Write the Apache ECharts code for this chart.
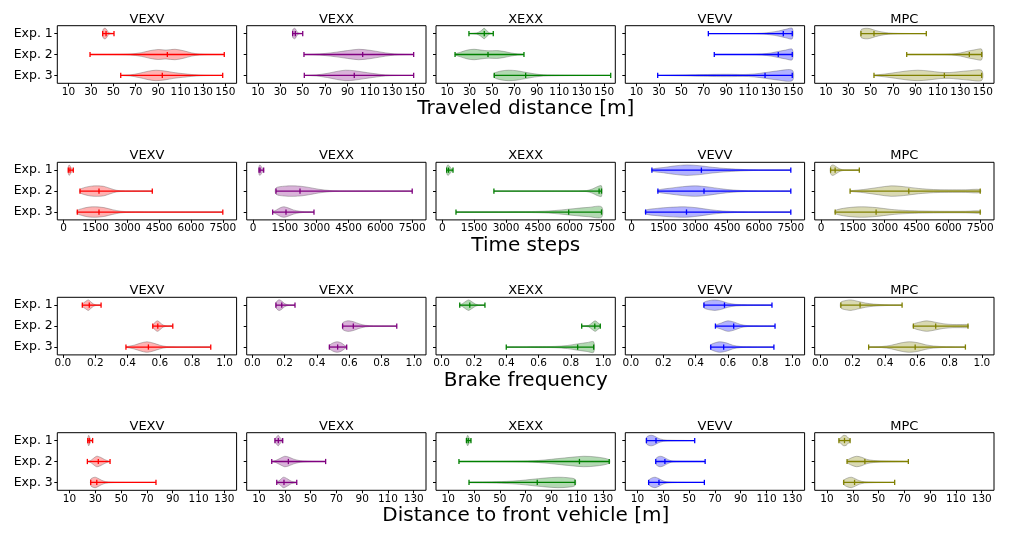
<!DOCTYPE html>
<html>
<head>
<meta charset="utf-8">
<script src="https://cdn.jsdelivr.net/npm/echarts@6/dist/echarts.min.js"></script>
<style>html,body{margin:0;padding:0;background:#fff}#c{width:1010px;height:534px}</style>
</head>
<body>
<div id="c"></div>
<script>
// ---------- data ----------
const methods = ['VEXV', 'VEXX', 'XEXX', 'VEVV', 'MPC'];
const experiments = ['Exp. 1', 'Exp. 2', 'Exp. 3'];
const metricLabels = ['Traveled distance [m]', 'Time steps', 'Brake frequency', 'Distance to front vehicle [m]'];

const distTicks = [10, 30, 50, 70, 90, 110, 130, 150];
const timeTicks = [0, 1500, 3000, 4500, 6000, 7500];
const brakeTicks = [0, 0.2, 0.4, 0.6, 0.8, 1.0];
const gapTicks = [10, 30, 50, 70, 90, 110, 130];

// stats per method, per experiment: [min, median, max]
const distStats = [
  [[40.5, 43.5, 50.6], [29.2, 98.2, 149.0], [56.6, 93.7, 147.6]],
  [[41.0, 43.4, 50.0], [51.1, 103.5, 149.0], [51.4, 96.0, 149.0]],
  [[29.4, 43.1, 51.1], [17.0, 46.4, 78.5], [52.0, 80.0, 155.9]],
  [[74.1, 141.0, 149.0], [79.4, 136.5, 149.0], [28.9, 124.7, 149.0]],
  [[41.3, 52.9, 99.6], [82.1, 138.0, 149.0], [52.9, 115.7, 149.0]]
];
// violin outline per method, per experiment: [value, relative half width]
const distShapes = [
  [[[40.5,0.5],[41.5,0.95],[43,1],[44.5,0.6],[46,0.15],[48,0.03],[50.6,0]],
   [[29.2,0],[50,0.01],[65,0.08],[75,0.35],[83,0.75],[90,0.95],[97,0.85],[105,1],[113,0.7],[120,0.3],[127,0.08],[135,0.02],[149,0]],
   [[56.6,0.02],[65,0.1],[73,0.4],[81,0.8],[88,1],[96,0.85],[104,0.55],[112,0.35],[120,0.18],[128,0.06],[136,0.02],[147.6,0]]],
  [[[41,0.7],[42.5,1],[43.5,0.9],[45,0.3],[47,0.05],[50,0]],
   [[51.1,0],[60,0.05],[70,0.2],[80,0.45],[90,0.75],[100,1],[110,0.8],[120,0.45],[128,0.2],[136,0.05],[149,0]],
   [[51.4,0],[62,0.1],[72,0.4],[80,0.75],[88,1],[96,0.9],[104,0.65],[112,0.4],[120,0.18],[128,0.05],[149,0]]],
  [[[29.4,0],[36,0.1],[40,0.5],[43,1],[45.5,0.5],[48,0.1],[51.1,0]],
   [[17,0.1],[22,0.45],[28,0.85],[34,1],[40,0.85],[47,0.7],[54,0.75],[60,0.6],[67,0.3],[73,0.1],[78.5,0.02]],
   [[52,0.4],[58,0.85],[65,1],[72,0.9],[80,0.6],[88,0.3],[96,0.12],[110,0.05],[130,0.02],[155.9,0]]],
  [[[74.1,0],[110,0.02],[122,0.08],[130,0.25],[137,0.5],[143,0.8],[149,1]],
   [[79.4,0],[110,0.02],[122,0.1],[130,0.3],[137,0.6],[143,0.85],[149,1]],
   [[28.9,0],[40,0.04],[55,0.1],[70,0.17],[85,0.22],[95,0.22],[105,0.18],[115,0.28],[125,0.55],[135,0.85],[149,1]]],
  [[[41.3,0.7],[45,1],[49,0.95],[54,0.6],[60,0.3],[66,0.12],[74,0.04],[85,0.01],[99.6,0]],
   [[82.1,0],[110,0.02],[122,0.08],[130,0.3],[137,0.65],[143,0.9],[149,1]],
   [[52.9,0.05],[62,0.25],[72,0.55],[82,0.85],[92,1],[102,0.85],[112,0.6],[120,0.55],[128,0.7],[138,0.9],[149,0.95]]]
];

const timeStats = [
  [[218, 298, 454], [770, 1665, 4177], [643, 1665, 7500]],
  [[280, 330, 500], [1081, 2212, 7500], [924, 1552, 2871]],
  [[204, 294, 501], [2429, 7387, 7500], [642, 5953, 7500]],
  [[954, 3286, 7500], [1236, 3409, 7500], [657, 2584, 7500]],
  [[449, 663, 1803], [1368, 4134, 7500], [666, 2594, 7500]]
];
const timeShapes = [
  [[[218,0.6],[260,1],[320,0.7],[380,0.3],[454,0.05]],
   [[770,0.3],[1000,0.7],[1300,0.95],[1600,1],[1900,0.9],[2200,0.5],[2500,0.15],[2900,0.03],[3500,0.01],[4177,0]],
   [[643,0.3],[900,0.7],[1200,0.95],[1500,1],[1900,0.85],[2300,0.45],[2700,0.15],[3200,0.04],[4000,0.01],[7500,0]]],
  [[[280,0.8],[330,1],[400,0.6],[500,0.1]],
   [[1081,0.6],[1500,0.95],[1900,1],[2300,0.9],[2700,0.65],[3100,0.35],[3600,0.12],[4200,0.03],[5500,0.01],[7500,0]],
   [[924,0.05],[1100,0.4],[1300,0.85],[1450,1],[1650,0.8],[1900,0.4],[2200,0.15],[2500,0.05],[2871,0.01]]],
  [[[204,0.6],[260,1],[330,0.8],[420,0.3],[501,0.05]],
   [[2429,0],[6000,0.01],[6800,0.1],[7100,0.45],[7300,0.85],[7500,1]],
   [[642,0.04],[1500,0.07],[3000,0.08],[4200,0.1],[5000,0.2],[5600,0.4],[6200,0.65],[6900,0.9],[7500,1]]],
  [[[954,0.2],[1500,0.5],[2000,0.8],[2600,1],[3200,0.85],[3800,0.55],[4500,0.3],[5300,0.12],[6200,0.03],[7500,0]],
   [[1236,0.2],[1800,0.55],[2400,0.85],[3000,1],[3600,0.8],[4200,0.45],[4800,0.2],[5500,0.07],[6500,0.02],[7500,0]],
   [[657,0.35],[1200,0.7],[1800,0.9],[2500,1],[3100,0.8],[3700,0.45],[4300,0.2],[5000,0.08],[6000,0.02],[7500,0]]],
  [[[449,0.7],[550,1],[700,0.7],[850,0.3],[1000,0.1],[1200,0.03],[1803,0]],
   [[1368,0.05],[2000,0.3],[2700,0.7],[3300,1],[3900,0.85],[4600,0.5],[5300,0.3],[6000,0.25],[6800,0.25],[7500,0.3]],
   [[666,0.3],[1200,0.8],[1900,1],[2600,0.85],[3300,0.5],[4000,0.3],[4800,0.2],[5800,0.15],[6800,0.15],[7500,0.2]]]
];

const brakeStats = [
  [[0.120, 0.163, 0.236], [0.556, 0.587, 0.680], [0.390, 0.529, 0.915]],
  [[0.146, 0.182, 0.264], [0.559, 0.625, 0.894], [0.477, 0.528, 0.584]],
  [[0.112, 0.174, 0.268], [0.867, 0.948, 0.982], [0.400, 0.842, 0.941]],
  [[0.452, 0.579, 0.873], [0.523, 0.636, 0.892], [0.494, 0.574, 0.885]],
  [[0.127, 0.246, 0.506], [0.576, 0.714, 0.914], [0.299, 0.587, 0.898]]
];
const brakeShapes = [
  [[[0.12,0.2],[0.14,0.7],[0.157,1],[0.17,0.7],[0.19,0.2],[0.21,0.04],[0.236,0]],
   [[0.556,0.2],[0.57,0.7],[0.585,1],[0.60,0.7],[0.62,0.2],[0.645,0.04],[0.68,0]],
   [[0.39,0.05],[0.44,0.35],[0.48,0.75],[0.52,1],[0.56,0.75],[0.60,0.35],[0.64,0.1],[0.70,0.02],[0.8,0.005],[0.915,0]]],
  [[[0.146,0.5],[0.16,0.95],[0.17,1],[0.185,0.7],[0.2,0.3],[0.22,0.08],[0.24,0.02],[0.264,0]],
   [[0.559,0.6],[0.58,0.95],[0.6,1],[0.63,0.8],[0.66,0.45],[0.70,0.15],[0.75,0.04],[0.82,0.01],[0.894,0]],
   [[0.477,0.3],[0.5,0.8],[0.525,1],[0.55,0.8],[0.57,0.35],[0.584,0.1]]],
  [[[0.112,0.05],[0.13,0.3],[0.15,0.75],[0.167,1],[0.185,0.7],[0.21,0.2],[0.23,0.05],[0.268,0]],
   [[0.867,0],[0.91,0.15],[0.93,0.6],[0.95,1],[0.965,0.7],[0.982,0.2]],
   [[0.40,0.03],[0.5,0.06],[0.6,0.1],[0.7,0.12],[0.78,0.3],[0.84,0.6],[0.9,0.85],[0.941,1]]],
  [[[0.452,0.5],[0.48,0.85],[0.52,1],[0.56,0.8],[0.6,0.4],[0.65,0.15],[0.72,0.08],[0.8,0.06],[0.873,0.03]],
   [[0.523,0.15],[0.56,0.6],[0.6,1],[0.64,0.75],[0.68,0.3],[0.72,0.1],[0.8,0.03],[0.892,0]],
   [[0.494,0.4],[0.52,0.8],[0.55,1],[0.59,0.8],[0.63,0.35],[0.68,0.1],[0.75,0.03],[0.885,0]]],
  [[[0.127,0.55],[0.16,0.9],[0.19,1],[0.23,0.75],[0.28,0.4],[0.33,0.2],[0.4,0.08],[0.45,0.03],[0.506,0]],
   [[0.576,0.35],[0.62,0.8],[0.66,1],[0.71,0.75],[0.76,0.45],[0.82,0.3],[0.87,0.3],[0.914,0.25]],
   [[0.299,0.02],[0.38,0.1],[0.44,0.35],[0.5,0.8],[0.55,1],[0.6,0.85],[0.65,0.45],[0.7,0.2],[0.78,0.06],[0.898,0]]]
];

const gapStats = [
  [[24.1, 25.3, 27.9], [23.8, 32.3, 41.4], [26.4, 31.1, 77.0]],
  [[22.4, 25.0, 28.4], [19.9, 32.8, 61.7], [23.8, 29.4, 39.3]],
  [[24.1, 25.5, 27.6], [18.3, 111.7, 134.8], [26.1, 79.0, 108.3]],
  [[16.9, 24.3, 54.3], [24.1, 31.2, 62.4], [18.6, 26.6, 61.8]],
  [[19.3, 23.6, 27.9], [25.6, 39.4, 73.1], [23.0, 31.4, 62.5]]
];
const gapShapes = [
  [[[24.1,0.4],[24.8,1],[25.5,0.7],[26.5,0.2],[27.9,0]],
   [[23.8,0],[26,0.15],[28,0.5],[31,1],[34,0.8],[37,0.4],[40,0.1],[41.4,0.02]],
   [[26.4,0.6],[28,0.9],[30,1],[32,0.8],[35,0.4],[38,0.15],[42,0.05],[50,0.02],[60,0.005],[77,0]]],
  [[[22.4,0.2],[24,0.8],[25,1],[26.5,0.5],[28.4,0.1]],
   [[19.9,0],[23,0.2],[26,0.55],[30,1],[33,0.85],[37,0.45],[42,0.15],[48,0.04],[55,0.01],[61.7,0]],
   [[23.8,0.05],[26,0.4],[29,1],[32,0.7],[35,0.25],[39.3,0.02]]],
  [[[24.1,0.3],[25,1],[26,0.6],[27.6,0.1]],
   [[18.3,0],[40,0.01],[60,0.04],[75,0.12],[85,0.3],[95,0.55],[105,0.8],[115,1],[125,0.85],[134.8,0.35]],
   [[26.1,0.05],[40,0.1],[55,0.2],[65,0.35],[75,0.6],[85,0.85],[95,1],[103,0.9],[108.3,0.6]]],
  [[[16.9,0.6],[19,0.95],[21,1],[23,0.85],[26,0.45],[30,0.15],[36,0.06],[45,0.03],[54.3,0]],
   [[24.1,0.5],[26,0.9],[28,1],[30,0.85],[33,0.45],[36,0.15],[40,0.05],[50,0.02],[62.4,0]],
   [[18.6,0.4],[21,0.85],[23.5,1],[26,0.8],[29,0.4],[32,0.15],[37,0.05],[45,0.02],[61.8,0]]],
  [[[19.3,0.2],[21,0.6],[23,1],[25,0.9],[26.5,0.5],[27.9,0.2]],
   [[25.6,0.2],[29,0.7],[33,1],[37,0.8],[41,0.4],[46,0.2],[52,0.1],[60,0.05],[73.1,0]],
   [[23,0.4],[26,0.85],[29,1],[32,0.7],[35,0.35],[39,0.12],[45,0.05],[52,0.02],[62.5,0]]]
];

// ---------- styling / layout ----------
const lineColors = ['#ff0000', '#800080', '#008000', '#0000ff', '#808000'];
const fillColors = ['rgba(255,0,0,0.3)', 'rgba(128,0,128,0.3)', 'rgba(0,128,0,0.3)', 'rgba(0,0,255,0.3)', 'rgba(128,128,0,0.3)'];
const FONT = 'DejaVu Sans';
const colLeft = [57.3, 246.7, 436, 625.3, 814.7];
const rowTop = [25.7, 162.3, 297.3, 432.7];
const PW = 179.3, PH = 57.6;

const metrics = [
  { stats: distStats, shapes: distShapes, ticks: distTicks, min: 0, max: 160, fmt: v => String(v) },
  { stats: timeStats, shapes: timeShapes, ticks: timeTicks, min: -300, max: 8150, fmt: v => String(v) },
  { stats: brakeStats, shapes: brakeShapes, ticks: brakeTicks, min: -0.035, max: 1.075, fmt: v => Number(v).toFixed(1) },
  { stats: gapStats, shapes: gapShapes, ticks: gapTicks, min: 0.5, max: 139.5, fmt: v => String(v) }
];

function makeRender(shapes, lc, fc) {
  return function (params, api) {
    const e = api.value(0), mn = api.value(1), md = api.value(2), mx = api.value(3);
    const pos = e + 1;
    const prof = shapes[e];
    const top = prof.map(p => api.coord([p[0], pos - p[1] * 0.25]));
    const bot = prof.slice().reverse().map(p => api.coord([p[0], pos + p[1] * 0.25]));
    const pts = top.concat(bot);
    const seg = (x1, y1, x2, y2) => ({ type: 'line', shape: { x1, y1, x2, y2 }, style: { stroke: lc, lineWidth: 1.3 } });
    const a = api.coord([mn, pos]), b = api.coord([mx, pos]);
    const caps = [mn, md, mx].map(v => {
      const p1 = api.coord([v, pos - 0.125]), p2 = api.coord([v, pos + 0.125]);
      return seg(p1[0], p1[1], p2[0], p2[1]);
    });
    return {
      type: 'group',
      children: [
        { type: 'polygon', shape: { points: pts, smooth: 0.3 }, style: { fill: fc, stroke: 'rgba(80,80,80,0.45)', lineWidth: 0.8 } },
        seg(a[0], a[1], b[0], b[1])
      ].concat(caps)
    };
  };
}

const grids = [], xAxes = [], yAxes = [], series = [], graphics = [];
metrics.forEach((m, r) => {
  methods.forEach((name, c) => {
    const i = r * 5 + c;
    grids.push({ left: colLeft[c], top: rowTop[r], width: PW, height: PH, show: true, borderColor: '#000', borderWidth: 1, backgroundColor: 'transparent' });
    xAxes.push({
      type: 'value', gridIndex: i, min: m.min, max: m.max, position: 'bottom',
      axisLine: { show: false, onZero: false }, splitLine: { show: false },
      axisTick: { show: true, length: 3, lineStyle: { color: '#000', width: 1 }, customValues: m.ticks },
      axisLabel: { customValues: m.ticks, formatter: m.fmt, fontSize: 10.5, color: '#000', margin: 3, fontFamily: FONT }
    });
    yAxes.push({
      type: 'value', gridIndex: i, min: 0.625, max: 3.375, inverse: true, position: 'left',
      axisLine: { show: false, onZero: false }, splitLine: { show: false },
      axisTick: { show: true, length: 3, lineStyle: { color: '#000', width: 1 }, customValues: [1, 2, 3] },
      axisLabel: { show: c === 0, customValues: [1, 2, 3], formatter: v => experiments[Math.round(v) - 1], fontSize: 12.5, color: '#000', margin: 4.5, fontFamily: FONT }
    });
    series.push({
      type: 'custom', xAxisIndex: i, yAxisIndex: i, coordinateSystem: 'cartesian2d',
      renderItem: makeRender(m.shapes[c], lineColors[c], fillColors[c]),
      data: m.stats[c].map((s, e) => [e, s[0], s[1], s[2]]),
      encode: { x: [1, 3], y: 0 },
      silent: true, animation: false
    });
    graphics.push({
      type: 'text', x: colLeft[c] + PW / 2, y: rowTop[r] - 6.5,
      style: { text: name, font: '13px "' + FONT + '"', fill: '#000', align: 'center', verticalAlign: 'middle', textAlign: 'center', textVerticalAlign: 'middle' }
    });
  });
  graphics.push({
    type: 'text', x: 525.8, y: rowTop[r] + PH + 25.5,
    style: { text: metricLabels[r], font: '20px "' + FONT + '"', fill: '#000', align: 'center', verticalAlign: 'middle', textAlign: 'center', textVerticalAlign: 'middle' }
  });
});

const chart = echarts.init(document.getElementById('c'), null, { renderer: 'canvas' });
chart.setOption({
  animation: false,
  backgroundColor: '#fff',
  grid: grids, xAxis: xAxes, yAxis: yAxes, series: series,
  graphic: graphics
});
</script>
</body>
</html>
